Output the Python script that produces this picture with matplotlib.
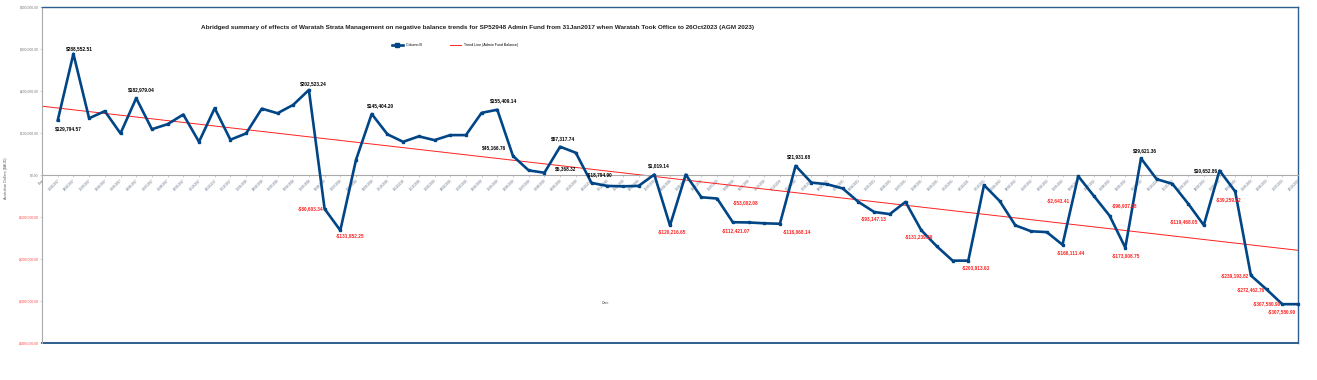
import numpy as np
import matplotlib
matplotlib.use("Agg")
import matplotlib.pyplot as plt

# category labels (first category is the header "Date" with no value)
dates = [
    "31/01/2017", "28/02/2017", "31/03/2017", "30/04/2017", "31/05/2017", "30/06/2017",
    "31/07/2017", "31/08/2017", "30/09/2017", "31/10/2017", "30/11/2017", "31/12/2017",
    "31/01/2018", "28/02/2018", "31/03/2018", "30/04/2018", "31/05/2018", "30/06/2018",
    "31/07/2018", "31/08/2018", "30/09/2018", "31/10/2018", "30/11/2018", "31/12/2018",
    "31/01/2019", "28/02/2019", "31/03/2019", "30/04/2019", "31/05/2019", "30/06/2019",
    "31/07/2019", "31/08/2019", "30/09/2019", "31/10/2019", "30/11/2019", "31/12/2019",
    "31/01/2020", "29/02/2020", "31/03/2020", "30/04/2020", "31/05/2020", "30/06/2020",
    "31/07/2020", "31/08/2020", "30/09/2020", "31/10/2020", "30/11/2020", "31/12/2020",
    "31/01/2021", "28/02/2021", "31/03/2021", "30/04/2021", "31/05/2021", "30/06/2021",
    "31/07/2021", "31/08/2021", "30/09/2021", "31/10/2021", "30/11/2021", "31/12/2021",
    "31/01/2022", "28/02/2022", "31/03/2022", "30/04/2022", "31/05/2022", "30/06/2022",
    "31/07/2022", "31/08/2022", "30/09/2022", "31/10/2022", "30/11/2022", "31/12/2022",
    "31/01/2023", "28/02/2023", "31/03/2023", "30/04/2023", "31/05/2023", "30/06/2023",
    "31/07/2023", "26/10/2023",
]

# Column B - admin fund balance
balance = [
    129794.57, 288552.51, 135000, 152000, 99000, 182979.04, 109000, 121000, 144000, 79000,
    159000, 84000, 99000, 158000, 147000, 167000, 202523.24, -80603.34, -131852.25, 36000,
    145404.20, 97000, 79000, 92000, 83000, 95000, 95000, 148000, 155409.14, 45166.76,
    11000, 5368.32, 67317.74, 53000, -18794.90, -26000, -27000, -26000, 1019.14, -120216.65,
    1000, -53002.08, -56000, -112421.07, -113000, -115000, -116068.14, 21931.68, -18000, -22000,
    -32000, -64000, -88000, -93147.13, -64000, -131239.69, -170000, -203913.63, -203913.63, -24000,
    -62000, -120000, -134000, -136000, -166111.44, -2643.41, -50000, -96937.08, -173008.75, 39621.36,
    -10000, -21000, -68000, -119468.05, 10652.86, -39259.22, -239193.82, -272462.76, -307580.90, -307580.90,
]

# trend line end points (category 0 and last category)
trend_x = [0, 80]
trend_y = [163800, -179300]

# categories that carry a data label
label_idx = [1, 2, 6, 17, 18, 19, 21, 29, 30, 32, 33, 35, 39, 40, 42, 44, 47, 48,
             54, 56, 59, 65, 66, 68, 69, 70, 74, 75, 76, 77, 78, 79, 80]

yticks = [-400000, -300000, -200000, -100000, 0, 100000, 200000, 300000, 400000]

title = ("Abridged summary of effects of Waratah Strata Management on negative balance trends "
         "for SP52948 Admin Fund from 31Jan2017 when Waratah Took Office to 26Oct2023 (AGM 2023)")


def money(v):
    return f"-${abs(v):,.2f}" if v < 0 else f"${v:,.2f}"


# label offsets in pixels (dx, dy)
offsets = {
    1: (11, -8), 2: (6, 5), 6: (5, 9), 17: (4, 6), 18: (-14, 0), 19: (10, -5),
    21: (9, 8), 29: (6, 9), 30: (-19, 8), 32: (21, 4), 33: (3, 8), 35: (8, 8),
    39: (4, 9), 40: (2, -6), 42: (44, -5), 44: (3, -8), 47: (17, -8), 48: (3, 9),
    54: (-16, -5), 56: (-2, -7), 59: (8, -7), 65: (8, -8), 66: (-20, -25),
    68: (15, 10), 69: (1, -8), 70: (4, 8), 74: (-20, 4), 75: (-14, 0),
    76: (-7, -8), 77: (-16, 0), 78: (-16, 0), 79: (-15, 1), 80: (-16, -7),
}

plt.rcParams['font.family'] = ['Liberation Sans', 'DejaVu Sans']

W, H = 1317, 380
fig = plt.figure(figsize=(W / 100, H / 100), dpi=100)
ax = fig.add_axes([42 / W, 1 - 343 / H, (1298 - 42) / W, (343 - 7) / H])

line_col = "#004586"
border_col = "#2e5f8e"
x = np.arange(1, len(balance) + 1)

# category axis crosses at zero; set this before the tick labels (it resets them)
ax.spines["bottom"].set_position(("data", 0))
ax.spines["bottom"].set_color("#aaaaaa")
ax.spines["left"].set_color("#aaaaaa")
for s in ["top", "right"]:
    ax.spines[s].set_color(border_col)
    ax.spines[s].set_linewidth(1.0)

ax.plot(x, balance, color=line_col, linewidth=1.9, marker="s", markersize=2,
        label="Column B", zorder=3, clip_on=False)
ax.plot(trend_x, trend_y, color="#ff2020", linewidth=0.7,
        label="Trend Line (Admin Fund Balance)", zorder=2)

for i in label_idx:
    v = balance[i - 1]
    col = "#ff2020" if v < 0 else "black"
    if i == 35:
        col = "black"
    ax.annotate(money(v), (i, v), xytext=offsets[i], textcoords="offset pixels",
                ha="center", va="center", fontsize=3.4, fontweight="bold", color=col, zorder=4)

ax.set_xlim(0, 80)
ax.set_ylim(-400000, 400000)
ax.set_xticks(range(0, 81))
ax.set_xticklabels(["Date"] + dates, rotation=45, ha="right", va="top",
                   fontsize=2.2, color="#5a6a80", rotation_mode="anchor")
ax.set_yticks(yticks)
ax.set_yticklabels([money(v) for v in yticks], fontsize=2.4)
for lab, v in zip(ax.get_yticklabels(), yticks):
    lab.set_color("#ff4040" if v < 0 else "#777777")

ax.axhline(-400000, color=border_col, linewidth=1.4, clip_on=False, zorder=1)
ax.tick_params(axis="x", length=1.5, width=0.4, color="#aaaaaa", pad=1)
ax.tick_params(axis="y", length=1.5, width=0.4, color="#aaaaaa", pad=1)

fig.text(478 / W, 1 - 28 / H, title, ha="center", va="center",
         fontsize=4.6, fontweight="bold", color="#222222")
fig.text(606 / W, 1 - 303 / H, "Date", ha="center", va="center", fontsize=2.6, color="#555555")
fig.text(6 / W, 1 - 178 / H, "Australian Dollars ($AUD)", rotation=90,
         ha="center", va="center", fontsize=2.6, color="#555555")

ax.legend(loc="center", bbox_to_anchor=(455 / W, 1 - 45 / H), bbox_transform=fig.transFigure,
          ncol=2, frameon=False, fontsize=2.6, handlelength=3, columnspacing=8,
          markerscale=1.5)

fig.savefig("out.png", dpi=100)
